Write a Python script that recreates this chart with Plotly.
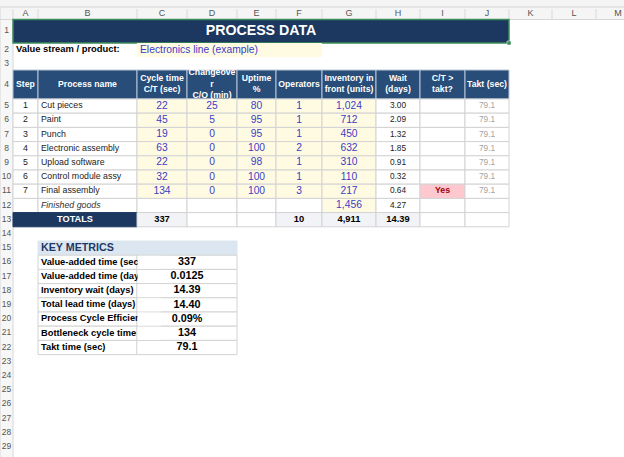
import plotly.graph_objects as go

# ---- sheet content ----
sheet_title = "PROCESS DATA"
value_stream_label = "Value stream / product:"
value_stream = "Electronics line (example)"

header_labels = ["Step", "Process name", "Cycle time<br>C/T (sec)", "Changeove<br>r<br>C/O (min)",
                 "Uptime<br>%", "Operators", "Inventory in<br>front (units)", "Wait<br>(days)",
                 "C/T ><br>takt?", "Takt (sec)"]

steps = [1, 2, 3, 4, 5, 6, 7]
process_names = ["Cut pieces", "Paint", "Punch", "Electronic assembly", "Upload software",
                 "Control module assy", "Final assembly"]
cycle_time = [22, 45, 19, 63, 22, 32, 134]
changeover = [25, 5, 0, 0, 0, 0, 0]
uptime = [80, 95, 95, 100, 98, 100, 100]
operators = [1, 1, 1, 2, 1, 1, 3]
inventory = [1024, 712, 450, 632, 310, 110, 217]
wait_days = [3.00, 2.09, 1.32, 1.85, 0.91, 0.32, 0.64]
ct_over_takt = ["", "", "", "", "", "", "Yes"]
takt = [79.1, 79.1, 79.1, 79.1, 79.1, 79.1, 79.1]

finished_label = "Finished goods"
finished_inventory = 1456
finished_wait = 4.27

totals_label = "TOTALS"
total_cycle_time = 337
total_operators = 10
total_inventory = 4911
total_wait = 14.39

metrics_title = "KEY METRICS"
metric_labels = ["Value-added time (sec)", "Value-added time (days)", "Inventory wait (days)",
                 "Total lead time (days)", "Process Cycle Efficiency", "Bottleneck cycle time (sec)",
                 "Takt time (sec)"]
metric_values = ["337", "0.0125", "14.39", "14.40", "0.09%", "134", "79.1"]

col_letters = ["", "A", "B", "C", "D", "E", "F", "G", "H", "I", "J", "K", "L", "M"]

# ---- sheet geometry (pixels) ----
col_widths = [13, 25, 99, 50, 50, 39, 46, 54, 44, 45, 44, 43, 44, 44]
# top strip, column header band, then sheet rows 1..30
row_heights = [7, 12.5, 23.5, 14, 13, 29] + [14.2] * 26

xe = [0]
for w in col_widths:
    xe.append(xe[-1] + w)
ye = [0]
for h in row_heights:
    ye.append(ye[-1] + h)


def top(r):
    return ye[r + 1]


def bot(r):
    return ye[r + 2]


def mid_y(r):
    return (top(r) + bot(r)) / 2


def mid_x(c0, c1=None):
    c1 = c0 if c1 is None else c1
    return (xe[c0] + xe[c1 + 1]) / 2


NAVY = "#1c3860"
HEAD = "#274d78"
YELLOW = "#fffbe3"
GRID = "#d3d3d3"
BLUE = "#3c3cc6"
TOT = "#f1f3f6"
FONT = "Liberation Sans"

shapes = []


def rect(c0, c1, r0, r1, fill="white", line=GRID, width=1, layer="below"):
    shapes.append(dict(type="rect", xref="x", yref="y", x0=xe[c0], x1=xe[c1 + 1],
                       y0=top(r0), y1=bot(r1), fillcolor=fill, layer=layer,
                       line=dict(color=line, width=width)))


fig = go.Figure()


def text(xs, ys, labels, size, color, weight="normal", style="normal", pos="middle center"):
    fig.add_trace(go.Scatter(
        x=xs, y=ys, text=labels, mode="text", textposition=pos,
        textfont=dict(family=FONT, size=size, color=color, weight=weight, style=style),
        hoverinfo="skip", showlegend=False, cliponaxis=False))


# sheet chrome: formula strip, column letters, row numbers
shapes.append(dict(type="rect", x0=0, x1=xe[-1], y0=0, y1=ye[1], fillcolor="#f4f4f4",
                   line=dict(width=0), layer="below"))
shapes.append(dict(type="rect", x0=0, x1=xe[-1], y0=ye[1], y1=ye[2], fillcolor="#f5f5f5",
                   line=dict(color="#d6d6d6", width=1), layer="below"))
shapes.append(dict(type="rect", x0=0, x1=xe[1], y0=ye[2], y1=ye[-1], fillcolor="#f7f7f7",
                   line=dict(color="#d6d6d6", width=1), layer="below"))
for c in range(1, len(col_widths)):
    shapes.append(dict(type="line", x0=xe[c], x1=xe[c], y0=ye[1] + 2, y1=ye[2],
                       line=dict(color="#d9d9d9", width=1), layer="below"))
text([mid_x(c) for c in range(1, len(col_letters))], [(ye[1] + ye[2]) / 2] * (len(col_letters) - 1),
     col_letters[1:], 9, "#555555")
row_nums = list(range(1, 30))
text([mid_x(0)] * len(row_nums), [mid_y(r) for r in row_nums], [str(r) for r in row_nums],
     8.5, "#555555")

# row 1: title bar
rect(1, 10, 1, 1, fill=NAVY, line="#3d8c5a", width=1.5)
text([mid_x(1, 10)], [mid_y(1)], [sheet_title], 14.2, "white", weight="bold")
shapes.append(dict(type="rect", x0=xe[11] - 2, x1=xe[11] + 2, y0=bot(1) - 2, y1=bot(1) + 2,
                   fillcolor="#3d8c5a", line=dict(color="white", width=0.5), layer="above"))

# row 2: value stream
rect(3, 6, 2, 2, fill=YELLOW, line=YELLOW, width=0)
text([xe[1] + 3], [mid_y(2)], [value_stream_label], 9.4, "black", weight="bold", pos="middle right")
text([xe[3] + 3], [mid_y(2)], [value_stream], 10.3, BLUE, pos="middle right")

# row 4: table header
for c in range(1, 11):
    rect(c, c, 4, 4, fill=HEAD, line="#b9c5d6")
text([mid_x(c) for c in range(1, 11)], [mid_y(4)] * 10, header_labels, 8.7, "white", weight="bold")

# rows 5..11: process steps
n = len(steps)
rows = [5 + i for i in range(n)]
for r in rows:
    for c in range(1, 11):
        fill = YELLOW if 3 <= c <= 7 else "white"
        if c == 9 and ct_over_takt[r - 5] == "Yes":
            fill = "#ffc7ce"
        rect(c, c, r, r, fill=fill)
ys = [mid_y(r) for r in rows]
text([mid_x(1)] * n, ys, [str(s) for s in steps], 8.8, "#222222")
text([xe[2] + 3] * n, ys, process_names, 8.8, "#222222", pos="middle right")
text([mid_x(3)] * n, ys, [str(v) for v in cycle_time], 10.3, BLUE)
text([mid_x(4)] * n, ys, [str(v) for v in changeover], 10.3, BLUE)
text([mid_x(5)] * n, ys, [str(v) for v in uptime], 10.3, BLUE)
text([mid_x(6)] * n, ys, [str(v) for v in operators], 10.3, BLUE)
text([mid_x(7)] * n, ys, [f"{v:,}" for v in inventory], 10.3, BLUE)
text([mid_x(8)] * n, ys, [f"{v:.2f}" for v in wait_days], 8.3, "#222222")
text([mid_x(9)] * n, ys, ct_over_takt, 8.8, "#9c0006", weight="bold")
text([mid_x(10)] * n, ys, [f"{v:.1f}" for v in takt], 8.3, "#a3a3a3")

# row 12: finished goods
for c in range(1, 11):
    rect(c, c, 12, 12, fill=YELLOW if c == 7 else "white")
text([xe[2] + 3], [mid_y(12)], [finished_label], 8.8, "#333333", style="italic", pos="middle right")
text([mid_x(7)], [mid_y(12)], [f"{finished_inventory:,}"], 10.3, BLUE)
text([mid_x(8)], [mid_y(12)], [f"{finished_wait:.2f}"], 8.3, "#222222")

# row 13: totals
rect(1, 2, 13, 13, fill=NAVY, line=NAVY)
for c in range(3, 11):
    rect(c, c, 13, 13, fill=TOT if c in (3, 6, 7, 8) else "white")
text([mid_x(1, 2)], [mid_y(13)], [totals_label], 9.2, "white", weight="bold")
text([mid_x(3), mid_x(6), mid_x(7), mid_x(8)], [mid_y(13)] * 4,
     [str(total_cycle_time), str(total_operators), f"{total_inventory:,}", f"{total_wait:.2f}"],
     9.3, "black", weight="bold")

# clip the overflowing changeover header (rows 3 and 5 in column D)
shapes.append(dict(type="rect", x0=xe[4], x1=xe[5], y0=top(3), y1=bot(3) - 0.4,
                   fillcolor="white", line=dict(width=0), layer="above"))
shapes.append(dict(type="rect", x0=xe[4] + 0.6, x1=xe[5] - 0.6, y0=top(5) + 0.6, y1=top(5) + 2,
                   fillcolor=YELLOW, line=dict(width=0), layer="above"))

# key metrics block
rect(2, 4, 15, 15, fill="#dce6f1", line="#dce6f1")
text([xe[2] + 3], [mid_y(15)], [metrics_title], 10.7, "#1f3864", weight="bold", pos="middle right")
m_rows = [16 + i for i in range(len(metric_labels))]
for r in m_rows:
    rect(2, 2, r, r)
    rect(3, 4, r, r)
text([xe[2] + 3] * len(m_rows), [mid_y(r) for r in m_rows], metric_labels, 9.3, "black",
     weight="bold", pos="middle right")
for r in m_rows:
    shapes.append(dict(type="rect", x0=xe[3] + 0.6, x1=xe[3] + 24, y0=top(r) + 0.6, y1=bot(r) - 0.6,
                       fillcolor="white", line=dict(width=0), layer="above"))
text([mid_x(3, 4)] * len(m_rows), [mid_y(r) for r in m_rows], metric_values, 10.8, "black",
     weight="bold")

fig.update_layout(
    width=624, height=457,
    margin=dict(l=0, r=0, t=0, b=0),
    paper_bgcolor="white", plot_bgcolor="white",
    shapes=shapes,
    xaxis=dict(range=[0, 624], visible=False, fixedrange=True),
    yaxis=dict(range=[457, 0], visible=False, fixedrange=True),
)

# the page body has a default 8px margin; drop it so the sheet starts at the window corner
fig.write_html("out.html", config={"displayModeBar": False},
               post_script="document.body.style.margin='0';document.body.style.overflow='hidden';")
